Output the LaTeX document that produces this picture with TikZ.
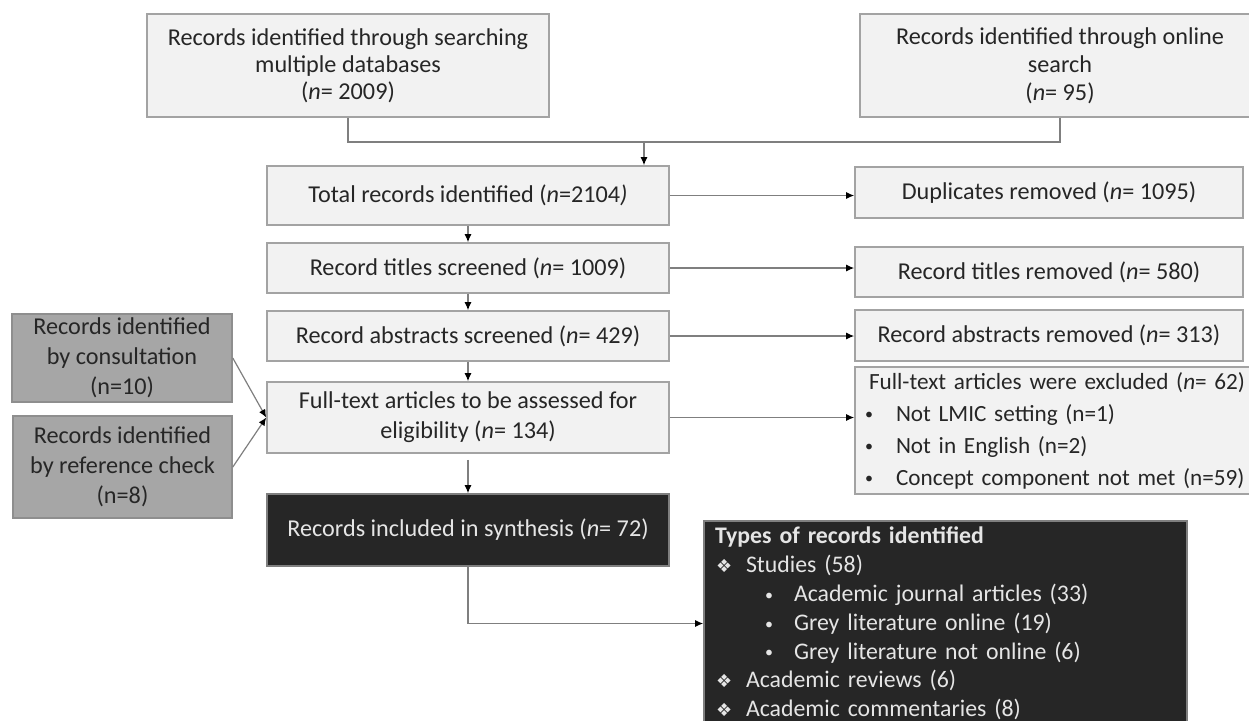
\documentclass[tikz,border=0pt]{standalone}
\usepackage{fontspec}
\setmainfont{Carlito}
\newfontfamily\symfont{DejaVu Sans}
\usepackage{tikz}
\usetikzlibrary{arrows.meta}
\definecolor{boxfill}{HTML}{F2F2F2}
\definecolor{boxline}{HTML}{A3A3A3}
\definecolor{midfill}{HTML}{A6A6A6}
\definecolor{midline}{HTML}{8E8E8E}
\definecolor{darkfill}{HTML}{262626}
\definecolor{linegrey}{HTML}{7F7F7F}
\newcommand{\smbullet}{\raisebox{0.6pt}{\footnotesize\textbullet}}

\begin{document}
\begin{tikzpicture}[x=0.5pt, y=-0.5pt,
		>={Latex[length=4pt,width=3.5pt,color=black]},   % kleine schwarze Pfeilspitzen
		font=\fontsize{12.1}{15}\selectfont,
		box/.style={draw=boxline, fill=boxfill, line width=0.8pt, inner sep=2pt, align=center, text=black!85},
		midbox/.style={box, draw=midline, fill=midfill, text=black!85},
		darkbox/.style={box, draw=linegrey, fill=darkfill, text=white!90!black},
		line/.style={draw=linegrey, line width=0.6pt},
		arr/.style={line, ->}]
		% Bildbereich
		\useasboundingbox (0,0) rectangle (1249,720);
		% Quellen
		\node[box, minimum width=201pt, minimum height=51.5pt, font=\fontsize{12.1}{13.6}\selectfont] (dbs) at (348,65.5) {Records identified through searching\\multiple databases\\(\textit{n}= 2009)};
		\node[box, minimum width=200pt, minimum height=51.5pt, font=\fontsize{12.1}{14}\selectfont] (online) at (1060,65.5) {Records identified through online\\search\\(\textit{n}= 95)};
		\node[midbox, minimum width=110pt, minimum height=44pt] (cons) at (122,358) {Records identified\\by consultation\\(n=10)};
		\node[midbox, minimum width=109.5pt, minimum height=51pt] (refchk) at (122.5,467) {Records identified\\by reference check\\(n=8)};
		% Hauptspalte
		\node[box, minimum width=201pt, minimum height=29.5pt] (total) at (468,195.5) {Total records identified (\textit{n}=2104\textit{)}};
		\node[box, minimum width=201pt, minimum height=25pt] (titles) at (468,268) {Record titles screened (\textit{n}= 1009)};
		\node[box, minimum width=201pt, minimum height=25pt] (abstracts) at (468,336) {Record abstracts screened (\textit{n}= 429)};
		\node[box, minimum width=201pt, minimum height=35.5pt] (full) at (468,417.5) {Full-text articles to be assessed for\\eligibility (\textit{n}= 134)};
		\node[darkbox, minimum width=201pt, minimum height=36pt] (incl) at (468,530) {Records included in synthesis (\textit{n}= 72)};
		% Ausschluesse
		\node[box, minimum width=194pt, minimum height=25.5pt] (dup) at (1049,192.5) {Duplicates removed (\textit{n}= 1095)};
		\node[box, minimum width=194pt, minimum height=25pt] (titlesrm) at (1049,272) {Record titles removed (\textit{n}= 580)};
		\node[box, minimum width=194pt, minimum height=25.5pt] (absrm) at (1049,335.5) {Record abstracts removed (\textit{n}= 313)};
		\node[box, align=left, text width=196pt, inner xsep=3.5pt, minimum height=63.5pt,
			font=\fontsize{11.6}{16}\selectfont] (excl) at (1058,430.5)
			{\hspace*{3.5pt}Full-text articles were excluded (\textit{n}= 62)\\
			\hspace*{1.5pt}\makebox[15.5pt][l]{\smbullet}Not LMIC setting (n=1)\\
			\hspace*{1.5pt}\makebox[15.5pt][l]{\smbullet}Not in English (n=2)\\
			\hspace*{1.5pt}\makebox[15.5pt][l]{\smbullet}Concept component not met (n=59)};
		% Arten
		\node[darkbox, align=left, text width=230.5pt, inner xsep=5.5pt, minimum height=102.5pt,
			font=\fontsize{11.9}{14.4}\selectfont] (types) at (945.5,623.5)
			{\textbf{Types of records identified}\\
			\hspace*{0.5pt}\makebox[15pt][l]{\symfont\small ❖}Studies (58)\\
			\hspace*{25pt}\makebox[14.5pt][l]{\smbullet}Academic journal articles (33)\\
			\hspace*{25pt}\makebox[14.5pt][l]{\smbullet}Grey literature online (19)\\
			\hspace*{25pt}\makebox[14.5pt][l]{\smbullet}Grey literature not online (6)\\
			\hspace*{0.5pt}\makebox[15pt][l]{\symfont\small ❖}Academic reviews (6)\\
			\hspace*{0.5pt}\makebox[15pt][l]{\symfont\small ❖}Academic commentaries (8)};
		% Verbindungen
		\coordinate (mrg) at (644,142);
		\draw[line] (dbs.south) |- (mrg);
		\draw[line] (online.south) |- (mrg);
		\draw[arr] (mrg) -- (mrg |- total.north);
		\draw[arr] (total) -- (titles);
		\draw[arr] (titles) -- (abstracts);
		\draw[arr] (abstracts) -- (full);
		\draw[arr, shorten <=3pt] (full) -- (incl);
		\foreach \a/\b in {total/dup, titles/titlesrm, abstracts/absrm, full/excl}
			\draw[arr] (\a.east) -- (\a.east -| \b.west);
		\draw[arr] (cons.east) -- (full.west);
		\draw[arr] (refchk.east) -- (full.west);
		\draw[arr] (incl.south) |- (types.west);
	\end{tikzpicture}
\end{document}
